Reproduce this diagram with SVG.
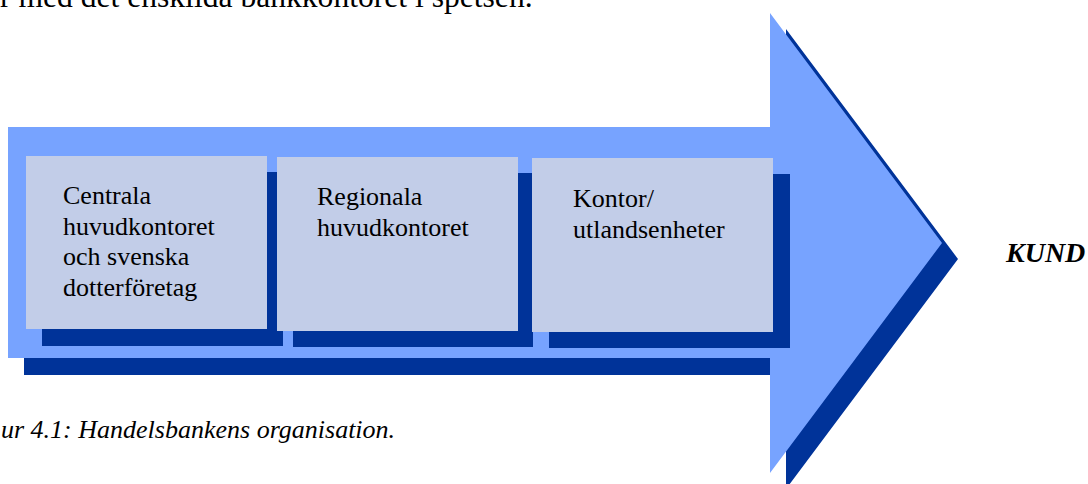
<svg xmlns="http://www.w3.org/2000/svg" width="1088" height="484" viewBox="0 0 1088 484">
<style>
.light{fill:#77A3FF}
.dark{fill:#003399}
.box{fill:#C2CDE8}
text{font-family:"Liberation Serif","Times New Roman",serif;fill:#000}
.t{font-size:26px}
.cap{font-style:italic;font-size:26px}
.kund{font-style:italic;font-weight:bold;font-size:28px}
.top{font-size:31.6px}
</style>
<rect width="1088" height="484" fill="#fff"/>
<text class="top" x="0" y="7">r med det enskilda bankkontoret i spetsen.</text>
<g id="arrow">
<polygon class="dark" points="24,143 786,143 786,29 958,259 786,489 786,375 24,375"/>
<polygon class="light" points="8,127 770,127 770,13 942,243 770,473 770,358 8,358"/>
</g>
<g id="node-centrala">
<rect class="dark" x="42" y="172" width="241" height="174"/>
<rect class="box" x="26" y="156" width="241" height="173"/>
<text class="t" x="63" y="204">Centrala</text>
<text class="t" x="63" y="234.5">huvudkontoret</text>
<text class="t" x="63" y="265">och svenska</text>
<text class="t" x="63" y="295.5">dotterföretag</text>
</g>
<g id="node-regionala">
<rect class="dark" x="293" y="173" width="240" height="174"/>
<rect class="box" x="277" y="157" width="241" height="174"/>
<text class="t" x="317" y="205">Regionala</text>
<text class="t" x="317" y="236">huvudkontoret</text>
</g>
<g id="node-kontor">
<rect class="dark" x="549" y="174" width="241" height="174"/>
<rect class="box" x="532" y="158" width="241" height="174"/>
<text class="t" x="573" y="207">Kontor/</text>
<text class="t" x="573" y="238">utlandsenheter</text>
</g>
<g id="node-kund">
<text class="kund" x="1006" y="262">KUND</text>
</g>
<g id="connectors"></g>
<text class="cap" x="1" y="438">ur 4.1: Handelsbankens organisation.</text>
</svg>
